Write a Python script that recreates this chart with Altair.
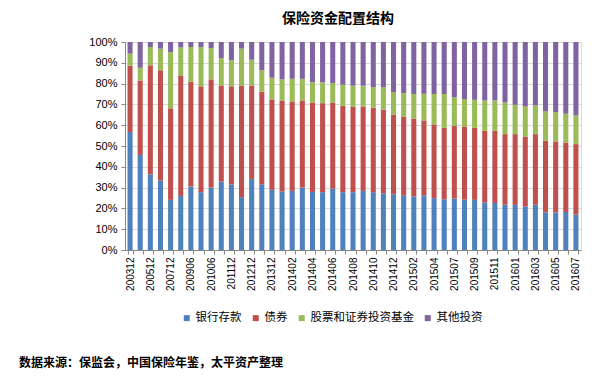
import altair as alt
import pandas as pd

periods = ["200312", "200412", "200512", "200612", "200712", "200812", "200906", "200912",
           "201006", "201012", "201112", "201206", "201212", "201306", "201312", "201401",
           "201402", "201403", "201404", "201405", "201406", "201407", "201408", "201409",
           "201410", "201411", "201412", "201501", "201502", "201503", "201504", "201506",
           "201507", "201508", "201509", "201510", "201511", "201512", "201601", "201602",
           "201603", "201604", "201605", "201606", "201607"]

bank = [56.7, 45.7, 36.4, 33.4, 24.1, 26.0, 30.5, 27.8, 30.0, 32.9, 31.5, 25.4, 34.2, 31.6, 28.9,
        28.1, 28.4, 30.0, 27.9, 27.8, 29.5, 27.8, 27.8, 28.4, 27.8, 27.3, 26.8, 26.3, 25.8, 26.3,
        24.9, 24.4, 24.7, 24.2, 24.1, 22.8, 22.6, 21.8, 21.7, 20.9, 21.8, 18.1, 18.0, 18.3, 17.0]
bonds = [31.9, 35.8, 52.4, 53.0, 44.0, 57.9, 50.4, 50.9, 52.0, 46.2, 47.2, 53.7, 44.9, 44.5, 43.5,
         43.6, 43.0, 41.9, 43.0, 42.8, 41.4, 41.5, 41.2, 40.6, 40.6, 40.1, 38.2, 37.9, 37.4, 36.0,
         35.5, 34.3, 35.0, 35.2, 34.6, 34.5, 34.7, 33.9, 34.0, 33.7, 33.9, 34.5, 34.2, 33.4, 33.9]
stocks = [5.8, 6.1, 8.8, 10.4, 27.1, 13.5, 16.7, 18.9, 15.1, 13.2, 12.5, 17.7, 12.4, 10.3, 10.4,
          10.3, 10.9, 10.4, 9.8, 10.0, 9.4, 10.2, 10.0, 10.0, 9.9, 10.9, 10.9, 11.2, 11.8, 12.8,
          14.6, 16.3, 13.7, 13.2, 13.5, 14.6, 14.6, 15.2, 14.1, 14.4, 13.8, 14.0, 14.1, 13.8, 13.8]
other = [5.6, 12.4, 2.4, 3.2, 4.8, 2.6, 2.4, 2.4, 2.9, 7.7, 8.8, 3.2, 8.5, 13.6, 17.2,
         18.0, 17.7, 17.7, 19.3, 19.4, 19.7, 20.5, 21.0, 21.0, 21.7, 21.7, 24.1, 24.6, 25.0, 24.9,
         25.0, 25.0, 26.6, 27.4, 27.8, 28.1, 28.1, 29.1, 30.2, 31.0, 30.5, 33.4, 33.7, 34.5, 35.3]

series_names = ["银行存款", "债券", "股票和证券投资基金", "其他投资"]
series_colors = ["#4F81BD", "#C0504D", "#9BBB59", "#8064A2"]
labeled_periods = periods[::2]

title_text = "保险资金配置结构"
source_text = "数据来源：保监会，中国保险年鉴，太平资产整理"

rows = []
for i, p in enumerate(periods):
    for k, (name, vals) in enumerate(zip(series_names, [bank, bonds, stocks, other])):
        rows.append({"period": p, "series": name, "value": vals[i], "idx": k})
df = pd.DataFrame(rows)

num_font = "Liberation Sans"
cjk_font = "Noto Sans CJK SC"

label_list = "[" + ",".join("'%s'" % s for s in labeled_periods) + "]"

bars = alt.Chart(df).mark_bar().encode(
    x=alt.X("period:N", sort=periods, title=None,
            scale=alt.Scale(paddingInner=0.5, paddingOuter=0.25),
            axis=alt.Axis(labelAngle=-90, labelFont=num_font, labelFontSize=10,
                          labelColor="#000000", tickBand="extent", tickSize=4,
                          tickColor="#868686", domainColor="#868686", labelPadding=3,
                          labelExpr="indexof(" + label_list + ", datum.value) >= 0 ? datum.value : ''",
                          grid=False)),
    y=alt.Y("value:Q", stack="normalize", title=None,
            scale=alt.Scale(domain=[0, 1]),
            axis=alt.Axis(format=".0%", values=[i / 10 for i in range(11)],
                          labelFont=num_font, labelFontSize=11, labelColor="#000000",
                          tickSize=4, tickColor="#868686", domainColor="#868686",
                          gridColor="#D9D9D9", labelPadding=4)),
    color=alt.Color("series:N", scale=alt.Scale(domain=series_names, range=series_colors),
                    legend=alt.Legend(title=None, orient="none", legendX=56, legendY=270,
                                      direction="horizontal", columns=4,
                                      symbolType="square", symbolSize=36,
                                      symbolStrokeWidth=0, labelFont=cjk_font,
                                      labelFontSize=11.5, labelColor="#000000",
                                      labelOffset=3, columnPadding=8)),
    order=alt.Order("idx:Q"),
)

src = alt.Chart(pd.DataFrame({"t": [source_text]})).mark_text(
    align="left", baseline="middle", font=cjk_font, fontSize=12, fontWeight="bold",
    color="#000000"
).encode(x=alt.value(-106), y=alt.value(321), text="t:N")

chart = alt.layer(bars, src).properties(
    width=456, height=208,
    autosize=alt.AutoSizeParams(type="none"),
    padding={"left": 117, "top": 34, "right": 11, "bottom": 125},
    title=alt.TitleParams(title_text, font=cjk_font, fontSize=14, fontWeight="bold",
                          color="#000000", dx=-15, offset=10, anchor="middle"),
).configure_view(stroke=None).configure(background="white")

chart.save("out.html", embed_options={"renderer": "svg", "actions": False})
